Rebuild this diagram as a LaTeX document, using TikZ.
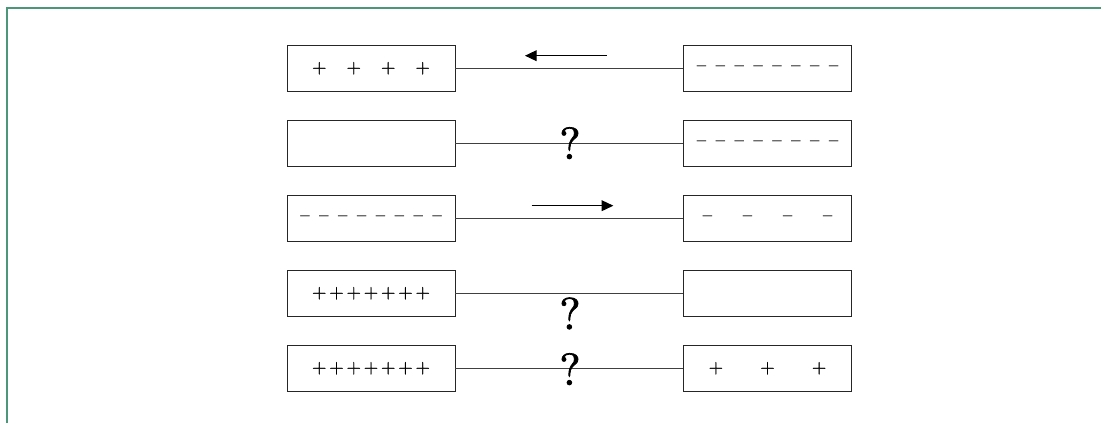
\documentclass[tikz,border=0pt]{standalone}
\usepackage{xcolor}
\usepackage{fontspec}
\usepackage{tikz}
\usetikzlibrary{shapes,arrows.meta,positioning}
\newfontfamily\signfont[FakeBold=1.2]{lmroman10-regular.otf}
\newfontfamily\queryfont[FakeBold=1.6]{lmroman10-regular.otf}
\definecolor{framegreen}{RGB}{76,150,122}
\tikzstyle{plate} = [rectangle, minimum width=4.2cm, minimum height=1.167cm, inner sep=0pt, text centered, draw=black!85, line width=0.6pt]
\tikzstyle{arrow} = [line width=0.7pt,-{Triangle[length=0.29cm,width=0.27cm]}]

% a row of charge signs: symbol, count, gap between them
\newcommand{\charges}[3]{#1\foreach \i in {2,...,#2}{\hspace{#3}#1}}

\begin{document}
\begin{tikzpicture}[node distance=1.875cm, auto]
    \tikzstyle{query} = [anchor=base, font=\queryfont\fontsize{32pt}{36pt}\selectfont]
    \tikzstyle{wire} = [draw=black!75, line width=0.6pt]
    \useasboundingbox (0,0) rectangle (27.525,-10.575);

    % frame
    \draw[framegreen, line width=1.4pt] (0.175,-10.575) -- (0.175,-0.2) -- (27.525,-0.2);

    % Nodes
    \begin{scope}[every node/.append style={font=\signfont\fontsize{13.2pt}{15pt}\selectfont}]
    \node (l1) [plate] at (9.275,-1.7075) {\charges{+}{4}{0.5cm}};
    \node (l2) [plate, below of=l1] {};
    \node (l3) [plate, below of=l2] {\charges{–}{8}{0.24cm}};
    \node (l4) [plate, below of=l3] {\charges{+}{7}{0.07cm}};
    \node (l5) [plate, below of=l4] {\charges{+}{7}{0.07cm}};
    \node (r1) [plate, right of=l1, node distance=9.9125cm] {\charges{–}{8}{0.24cm}};
    \node (r2) [plate, right of=l2, node distance=9.9125cm] {\charges{–}{8}{0.24cm}};
    \node (r3) [plate, right of=l3, node distance=9.9125cm] {\charges{–}{4}{0.77cm}};
    \node (r4) [plate, right of=l4, node distance=9.9125cm] {};
    \node (r5) [plate, right of=l5, node distance=9.9125cm] {\charges{+}{3}{0.93cm}};
    \end{scope}

    % Wires
    \foreach \k in {1,...,5}
        \draw[wire] (l\k) -- (r\k);

    % Arrows
    \coordinate (a1s) at (15.1675,-1.3925);
    \coordinate (a1e) at (13.125,-1.3925);
    \coordinate (a3s) at (13.2925,-5.1425);
    \coordinate (a3e) at (15.3325,-5.1425);
    \draw[arrow] (a1s) -- (a1e);
    \draw[arrow] (a3s) -- (a3e);

    % Question marks
    \node (q2) [query] at (14.25,-3.975) {?};
    \node (q4) [query] at (14.25,-8.2325) {?};
    \node (q5) [query] at (14.25,-9.625) {?};

\end{tikzpicture}
\end{document}
